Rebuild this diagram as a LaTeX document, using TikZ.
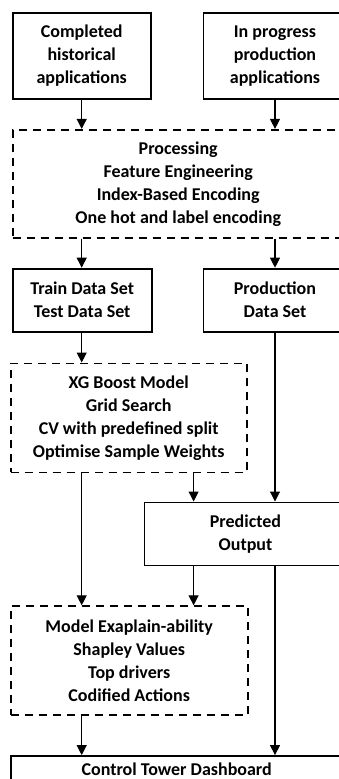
\documentclass[tikz,border=0pt]{standalone}
\usepackage{fontspec}
\setmainfont{Carlito}
\usetikzlibrary{arrows.meta, positioning}
\tikzset{
  block/.style={rectangle, draw, line width=1.8pt, inner sep=2pt,
                minimum height=63pt, align=center,
                font=\bfseries\fontsize{18}{23}\selectfont},
  stage/.style={block, dash pattern=on 8pt off 6pt},
  arrow/.style={-{Triangle[length=10pt,width=10pt]}, line width=1.1pt}
}

\begin{document}
\begin{tikzpicture}[x=1pt, y=1pt]
\useasboundingbox (0,0) rectangle (339,-779);
\clip (0,0) rectangle (339,-779);

% Row 1: source applications
\node[block, minimum width=138pt, minimum height=86pt] (Hist) at (81.7,-56) {Completed\\historical\\applications};
\node[block, minimum width=143pt, minimum height=86pt, right=51pt of Hist] (Prog) {In progress\\production\\applications};

% Row 2: processing
\node[stage, minimum width=331pt, minimum height=108pt, below=29pt of Hist.south west, anchor=north west] (Proc)
  {Processing\\Feature Engineering\\Index-Based Encoding\\One hot and label encoding};

% Row 3: data sets
\node[block, minimum width=139pt, below=29pt of Proc.south west, anchor=north west] (Train) {Train Data Set\\Test Data Set};
\node[block, minimum width=143pt, right=50pt of Train] (ProdSet) {Production\\Data Set};

% Row 4: model
\node[stage, minimum width=236pt, minimum height=109pt, below=30pt of Train.south west, anchor=north west, xshift=-2pt] (XGB)
  {XG Boost Model\\Grid Search\\CV with predefined split\\Optimise Sample Weights};

% Row 5: predictions
\node[block, minimum width=202pt, below=169pt of ProdSet.south east, anchor=north east] (Pred) {Predicted\\Output};
\path (Pred.north west) ++(50pt,0) coordinate (Link);

% Row 6: explainability
\node[stage, minimum width=237pt, minimum height=109pt, below=132pt of XGB.south west, anchor=north west] (Explain)
  {Model Exaplain-ability\\Shapley Values\\Top drivers\\Codified Actions};

% Row 7: dashboard, runs off the page
\node[block, minimum width=332pt, minimum height=0pt, inner ysep=6pt, text height=13pt, text depth=40pt,
      below=39pt of Explain.south west, anchor=north west] (Tower)
  {Control Tower Dashboard};

% --- Connections ---
\draw[arrow] (Hist.south) -- (Hist |- Proc.north);
\draw[arrow] (Prog.south) -- (Prog |- Proc.north);

\draw[arrow] (Proc.south -| Hist) -- (Train.north -| Hist);
\draw[arrow] (Proc.south -| Prog) -- (ProdSet.north -| Prog);

\draw[arrow] (Train.south -| Hist) -- (XGB.north -| Hist);
\draw[arrow] (XGB.south -| Link) -- (Link);
\draw[arrow] (ProdSet.south -| Prog) -- (Pred.north -| Prog);

\draw[arrow] (XGB.south -| Hist) -- (Explain.north -| Hist);
\draw[arrow] (Pred.south -| Link) -- (Explain.north -| Link);
\draw[arrow] (Pred.south -| Prog) -- (Tower.north -| Prog);

\draw[arrow] (Explain.south -| Hist) -- (Tower.north -| Hist);

\end{tikzpicture}
\end{document}
